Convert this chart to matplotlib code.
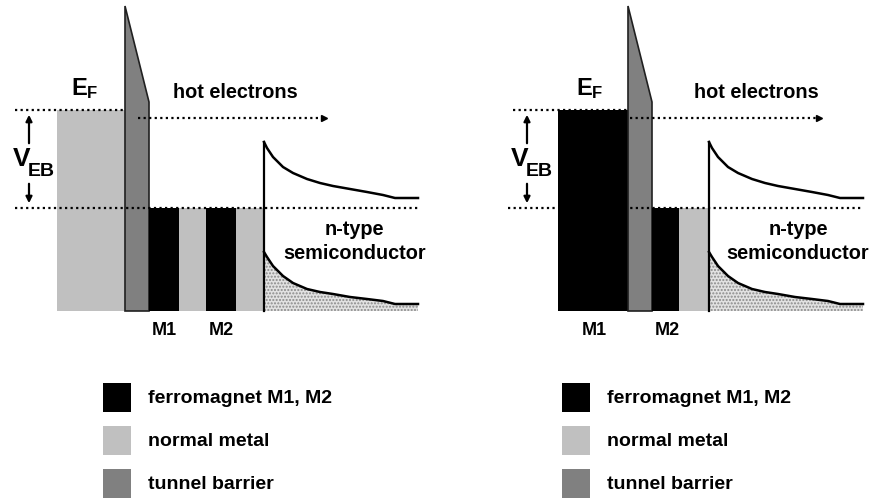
import matplotlib.pyplot as plt
from matplotlib.patches import Rectangle, Polygon

plt.rcParams['font.family'] = ['Liberation Sans', 'DejaVu Sans']

BLACK = '#000000'
NORMAL = '#c0c0c0'
BARRIER = '#808080'

# two panels: x offset of each panel
panel_x0 = [57, 558]
# emitter (first metal) width and colour per panel
emitter_w = [68, 70]
emitter_col = [NORMAL, BLACK]
# base layers after the barrier (widths, colours)
base_w = [[30, 27, 30, 28], [27, 30]]
base_col = [[BLACK, NORMAL, BLACK, NORMAL], [BLACK, NORMAL]]
layer_labels = [['M1', 'M2'], ['M1', 'M2']]

barrier_w = 24
y_ef = 110          # Fermi level emitter
y_base = 208        # Fermi level base / semiconductor
y_bottom = 311
barrier_top = [6, 102]   # left/right top heights of barrier

# conduction band of semiconductor (offset from interface)
band_dx = [0, 3, 9, 19, 29, 43, 56, 69, 86, 103, 119, 131, 154]
band_dy = [142, 148, 157, 167, 173, 179, 183, 186, 189, 192, 195, 198, 198]
lower_dy = [252, 257, 266, 276, 283, 289, 292, 294, 297, 299, 301, 304, 304]

legend_items = ['ferromagnet M1, M2', 'normal metal', 'tunnel barrier']
legend_cols = [BLACK, NORMAL, BARRIER]
legend_x = [103, 562]
legend_y = [383, 426, 469]

fig = plt.figure(figsize=(8.69, 5.0), dpi=100)
ax = fig.add_axes([0, 0, 1, 1])
ax.set_xlim(0, 869)
ax.set_ylim(500, 0)
ax.axis('off')

dot = dict(color='black', linestyle=(0, (1, 1.5)), linewidth=1.6)
fs_txt = 14.3

for p in range(2):
    x = panel_x0[p]
    ax.add_patch(Rectangle((x, y_ef), emitter_w[p], y_bottom - y_ef,
                           facecolor=emitter_col[p], edgecolor='none'))
    xb = x + emitter_w[p]
    ax.add_patch(Polygon([(xb, barrier_top[0]), (xb + barrier_w, barrier_top[1]),
                          (xb + barrier_w, y_bottom), (xb, y_bottom)],
                         closed=True, facecolor=BARRIER, edgecolor='#202020', linewidth=1.2))
    xs = xb + barrier_w
    centers = []
    for w, c in zip(base_w[p], base_col[p]):
        ax.add_patch(Rectangle((xs, y_base), w, y_bottom - y_base,
                               facecolor=c, edgecolor='none'))
        centers.append(xs + w / 2)
        xs += w
    xsc = xs
    # semiconductor
    bx = [xsc + d for d in band_dx]
    ax.plot([xsc, xsc], [band_dy[0], y_bottom], color='black', linewidth=1.6)
    ax.plot(bx, band_dy, color='black', linewidth=1.8)
    ax.fill_between(bx, lower_dy, y_bottom, facecolor='#e2e2e2', edgecolor='#8a8a8a',
                    hatch='.....', linewidth=0)
    ax.plot(bx, lower_dy, color='black', linewidth=1.8)

    # Fermi levels
    if p == 0:
        ax.plot([15, xb], [y_ef, y_ef], **dot)
        ax.plot([15, bx[-1]], [y_base, y_base], **dot)
        vx = 29
    else:
        ax.plot([513, xb], [y_ef, y_ef], **dot)
        ax.plot([508, bx[-1]], [y_base, y_base], **dot)
        vx = 527
    ax.annotate('', xy=(vx, y_ef + 2), xytext=(vx, 146),
                arrowprops=dict(arrowstyle='-|>', color='black', lw=1.6, mutation_scale=9))
    ax.annotate('', xy=(vx, y_base - 2), xytext=(vx, 181),
                arrowprops=dict(arrowstyle='-|>', color='black', lw=1.6, mutation_scale=9))
    ax.text(vx - 16, 166, 'V', fontsize=19, fontweight='bold', ha='left', va='baseline')
    ax.text(vx - 1, 176, 'EB', fontsize=14, fontweight='bold', ha='left', va='baseline')

    # E_F label
    ex = [71, 576][p]
    ax.text(ex, 95, 'E', fontsize=17, fontweight='bold', ha='left', va='baseline')
    ax.text(ex + 16, 98, 'F', fontsize=12, fontweight='bold', ha='left', va='baseline')

    # hot electrons
    hx0, hx1 = [(138, 322), (630, 817)][p]
    ax.plot([hx0, hx1], [118, 118], **dot)
    ax.plot([hx1 + 2], [118], marker='>', color='black', markersize=5)
    ax.text([235, 756][p], 98, 'hot electrons', fontsize=fs_txt, fontweight='bold',
            ha='center', va='baseline')
    ax.text([354, 798][p], 235, 'n-type', fontsize=fs_txt, fontweight='bold',
            ha='center', va='baseline')
    ax.text([355, 798][p], 259, 'semiconductor', fontsize=fs_txt, fontweight='bold',
            ha='center', va='baseline')

    # layer labels
    if p == 0:
        lx = [centers[0], centers[2]]
    else:
        lx = [x + emitter_w[p] / 2 + 1, centers[0] + 2]
    for t, xx in zip(layer_labels[p], lx):
        ax.text(xx, 335, t, fontsize=13, fontweight='bold', ha='center', va='baseline')

    # legend
    for lab, c, yy in zip(legend_items, legend_cols, legend_y):
        ax.add_patch(Rectangle((legend_x[p], yy), 28, 29, facecolor=c, edgecolor='none'))
        ax.text(legend_x[p] + 45, yy + 20, lab, fontsize=14, fontweight='bold',
                ha='left', va='baseline')

fig.savefig('out.png', dpi=100)
